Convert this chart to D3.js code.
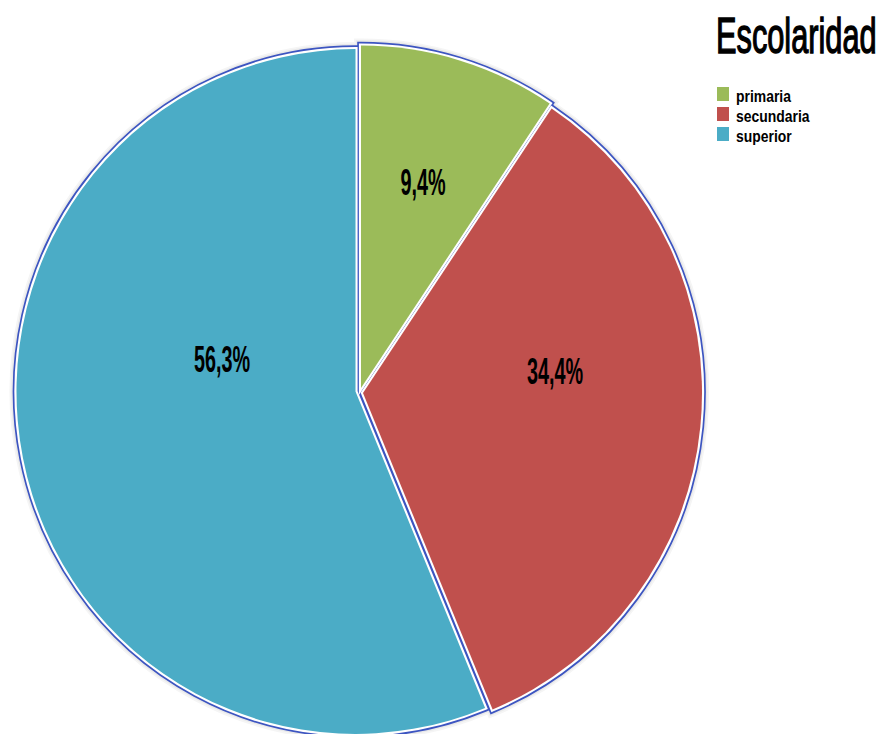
<!DOCTYPE html>
<html>
<head>
<meta charset="utf-8">
<script src="https://cdn.jsdelivr.net/npm/d3@7/dist/d3.min.js"></script>
<style>
  html, body { margin: 0; padding: 0; background: #ffffff; }
  svg { display: block; }
</style>
</head>
<body>
<svg id="chart" width="885" height="734"></svg>
<script>
// ---- data ----
const title = "Escolaridad";
const categories = ["primaria", "secundaria", "superior"];
const values = [9.4, 34.4, 56.3];
const valueLabels = ["9,4%", "34,4%", "56,3%"];

// ---- style / layout ----
const colors = ["#9BBB59", "#C0504D", "#4BACC6"];
const outlineBlue = "#3d55c1";
const radius = 339;
const yStretch = 1.01;
const sliceCenters = [[361, 388], [363, 393], [355.5, 391.5]];
const labelRadiusFrac = [0.63, 0.57, 0.405];
const labelAngleShift = [0, -12, 25];

const svg = d3.select("#chart");
const pie = d3.pie().sort(null).value(d => d)(values);
const arc = d3.arc().innerRadius(0).outerRadius(radius);

const layers = ["halo2", "halo", "blue", "white", "fill"];
const layerStyle = {
  halo2: { stroke: "#f5f5f5", width: 14 },
  halo:  { stroke: "#e9e9e9", width: 10.5 },
  blue:  { stroke: outlineBlue, width: 7.6 },
  white: { stroke: "#ffffff", width: 4.2 }
};

layers.forEach(layer => {
  const g = svg.append("g").attr("class", layer);
  g.selectAll("path")
    .data(pie)
    .join("path")
    .attr("transform", (d, i) => `translate(${sliceCenters[i][0]},${sliceCenters[i][1]}) scale(1,${yStretch})`)
    .attr("d", arc)
    .attr("fill", (d, i) => layer === "fill" ? colors[i] : "none")
    .attr("stroke", layer === "fill" ? "none" : layerStyle[layer].stroke)
    .attr("stroke-width", layer === "fill" ? 0 : layerStyle[layer].width)
    .attr("stroke-linejoin", "miter")
    .attr("stroke-miterlimit", 6);
});

// value labels
svg.append("g").selectAll("text")
  .data(pie)
  .join("text")
  .attr("transform", (d, i) => {
    const a = (d.startAngle + d.endAngle) / 2 + labelAngleShift[i] * Math.PI / 180;
    const rr = radius * labelRadiusFrac[i];
    const x = sliceCenters[i][0] + rr * Math.sin(a);
    const y = sliceCenters[i][1] - rr * Math.cos(a) * yStretch + 13;
    return `translate(${x},${y}) scale(0.55,1)`;
  })
  .attr("text-anchor", "middle")
  .attr("font-family", "'Liberation Sans', Arial, sans-serif")
  .attr("font-weight", "bold")
  .attr("font-size", 36)
  .attr("fill", "#000")
  .text((d, i) => valueLabels[i]);

// title
svg.append("text")
  .attr("transform", "translate(716,53) scale(0.615,1)")
  .attr("font-family", "'Liberation Sans', Arial, sans-serif")
  .attr("font-size", 50)
  .attr("fill", "#000")
  .attr("stroke", "#000")
  .attr("stroke-width", 1.4)
  .text(title);

// legend
const legend = svg.append("g").attr("transform", "translate(717,87)");
const items = legend.selectAll("g")
  .data(categories)
  .join("g")
  .attr("transform", (d, i) => `translate(0,${i * 20})`);
items.append("rect")
  .attr("width", 12).attr("height", 14)
  .attr("fill", (d, i) => colors[i]);
items.append("text")
  .attr("transform", "translate(19,14.5) scale(0.82,1)")
  .attr("font-family", "'Liberation Sans', Arial, sans-serif")
  .attr("font-weight", "bold")
  .attr("font-size", 17)
  .attr("fill", "#000")
  .text(d => d);
</script>
</body>
</html>
